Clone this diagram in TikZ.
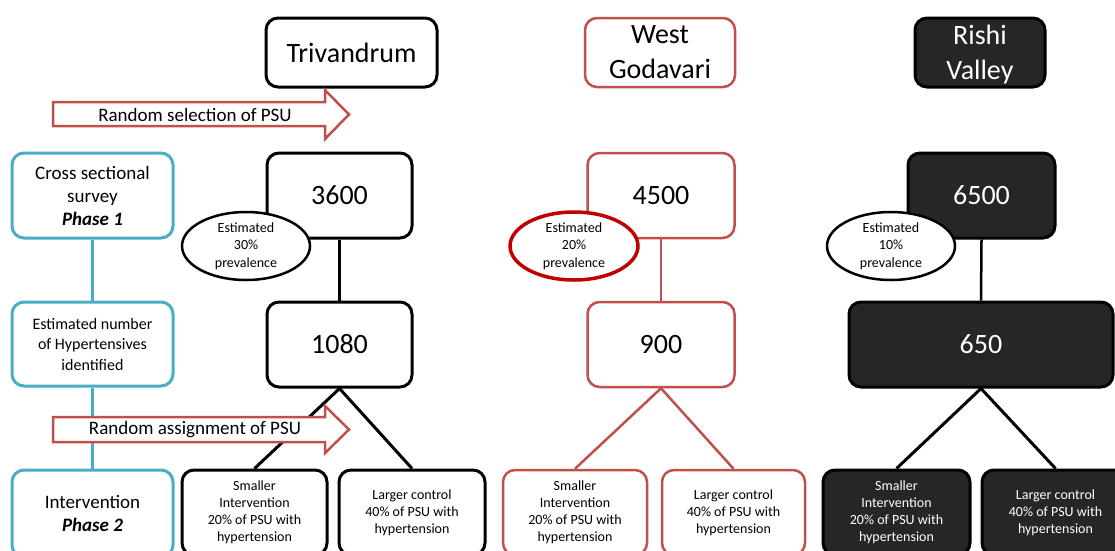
\documentclass[tikz,border=0pt]{standalone}
\usepackage{fontspec}
\setmainfont{Carlito}
\usetikzlibrary{shapes.geometric}
\definecolor{redc}{HTML}{C0504D}
\definecolor{bluec}{HTML}{4BACC6}
\definecolor{darkc}{HTML}{262626}
\definecolor{dredc}{HTML}{C00000}
\begin{document}
\begin{tikzpicture}[x=1pt,y=-1pt,
  box/.style={draw, rounded corners=12pt, line width=3pt, align=center, inner sep=0pt, fill=white, text=black},
  blk/.style={box, draw=black},
  redb/.style={box, draw=redc, line width=2.5pt},
  dark/.style={box, draw=black, fill=darkc, text=white},
  blu/.style={box, draw=bluec},
  bigf/.style={font=\fontsize{28}{35}\selectfont},
  midf/.style={font=\fontsize{19}{23}\selectfont},
  smlf/.style={font=\fontsize{16}{20.5}\selectfont},
  tinyf/.style={font=\fontsize{14}{17}\selectfont},
  ell/.style={ellipse, draw=black, line width=2.5pt, fill=white, minimum width=128pt, minimum height=68pt, inner sep=0pt, align=center, font=\fontsize{14}{17.5}\selectfont},
  blkline/.style={draw=black, line width=3pt},
  redline/.style={draw=redc, line width=2.5pt},
  bluline/.style={draw=bluec, line width=3pt},
  rarrow/.style={draw=redc, fill=white, line width=2.5pt, line join=miter},
  arrtext/.style={font=\fontsize{19}{23}\selectfont, inner sep=0pt}
]
\useasboundingbox (0,0) rectangle (1115,550);
\fill[white] (0,0) rectangle (1115,550);
\clip (0,0) rectangle (1115,550);

% Left phase column
\node[blu, midf, minimum width=161pt, minimum height=85pt] (cross) at (92.5,195.5) {Cross sectional\\survey\\\textbf{\textit{Phase 1}}};
\node[blu, smlf, minimum width=161pt, minimum height=84pt] (estn) at (92.5,344) {Estimated number\\of Hypertensives\\identified};
\node[blu, midf, minimum width=161pt, minimum height=87pt] (interv) at (92.5,513.5) {Intervention\\\textbf{\textit{Phase 2}}};

% Trivandrum
\node[blk, bigf, minimum width=171pt, minimum height=69pt] (triv) at (351.5,52.5) {Trivandrum};
\node[blk, bigf, minimum width=145pt, minimum height=85pt] (t3600) at (339.5,195.5) {3600};
\node[blk, bigf, minimum width=145pt, minimum height=85pt] (t1080) at (339.5,344.5) {1080};
\node[blk, tinyf, minimum width=145pt, minimum height=85pt] (ts) at (254.5,512.5) {Smaller\\Intervention\\20\% of PSU with\\hypertension};
\node[blk, tinyf, minimum width=146pt, minimum height=85pt] (tl) at (412,512.5) {Larger control\\40\% of PSU with\\hypertension};

% West Godavari
\node[redb, bigf, minimum width=150pt, minimum height=69pt] (west) at (660,52.5) {West\\Godavari};
\node[redb, bigf, minimum width=147pt, minimum height=85pt] (w4500) at (661,195.5) {4500};
\node[redb, bigf, minimum width=147pt, minimum height=85pt] (w900) at (661,344.5) {900};
\node[redb, tinyf, minimum width=144pt, minimum height=85pt] (ws) at (575,512.5) {Smaller\\Intervention\\20\% of PSU with\\hypertension};
\node[redb, tinyf, minimum width=143pt, minimum height=85pt] (wl) at (733.5,512.5) {Larger control\\40\% of PSU with\\hypertension};

% Rishi Valley
\node[dark, bigf, minimum width=130pt, minimum height=69pt] (rishi) at (980,52.5) {Rishi\\Valle\smash{y}};
\node[dark, bigf, minimum width=147pt, minimum height=85pt] (r6500) at (981.5,195.5) {6500};
\node[dark, bigf, minimum width=264pt, minimum height=85pt] (r650) at (981,344.5) {650};
\node[dark, tinyf, minimum width=147pt, minimum height=85pt] (rs) at (896.5,512.5) {Smaller\\Intervention\\20\% of PSU with\\hypertension};
\node[dark, tinyf, minimum width=147pt, minimum height=85pt] (rl) at (1055.5,512.5) {Larger control\\40\% of PSU with\\hypertension};

% connectors
\draw[bluline] (cross.south) -- (estn.north);
\draw[bluline] (estn.south) -- (interv.north);
\draw[blkline, line width=2.5pt] (t3600.south) -- (t1080.north);
\draw[blkline] (t1080.south) -- (ts.north);
\draw[blkline] (t1080.south) -- (tl.north);
\draw[redline] (w4500.south) -- (w900.north);
\draw[redline] (w900.south) -- (ws.north);
\draw[redline] (w900.south) -- (wl.north);
\draw[blkline, line width=2.5pt] (r6500.south) -- (r650.north);
\draw[blkline] (r650.south) -- (rs.north);
\draw[blkline] (r650.south) -- (rl.north);

% ellipses
\node[ell] (e1) at (246,246) {Estimated\\30\%\\prevalence};
\node[ell, draw=dredc, line width=3.5pt] (e2) at (574,246) {Estimated\\20\%\\prevalence};
\node[ell] (e3) at (891,246) {Estimated\\10\%\\prevalence};

% red block arrows
\draw[rarrow] (53,102) -- (325,102) -- (325,90) -- (349,114.5) -- (325,139) -- (325,126) -- (53,126) -- cycle;
\node[arrtext] (sel) at (195,114.5) {Random selection of PSU};
\draw[rarrow] (53,417) -- (325,417) -- (325,406) -- (349,429.5) -- (325,453) -- (325,442) -- (53,442) -- cycle;
\node[arrtext] (asg) at (195,429.5) {Random assignment of PSU};
\end{tikzpicture}
\end{document}
